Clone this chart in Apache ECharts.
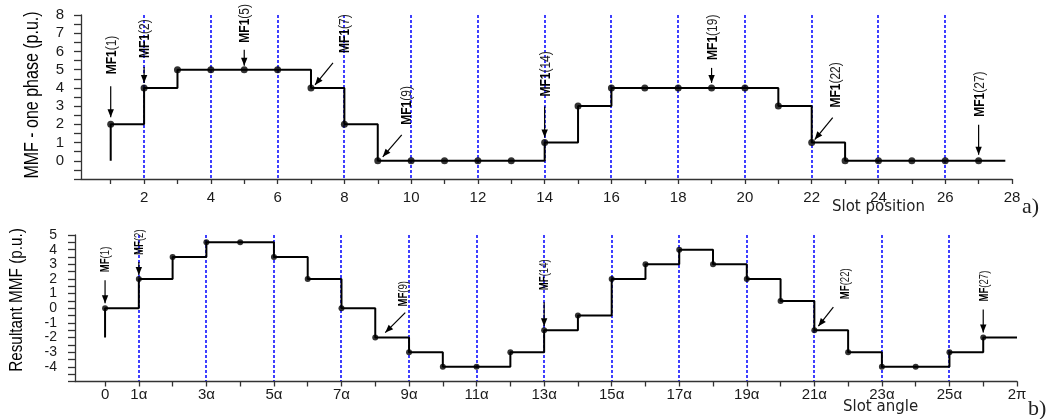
<!DOCTYPE html>
<html><head><meta charset="utf-8">
<script src="https://cdn.jsdelivr.net/npm/echarts@6/dist/echarts.min.js"></script>
<style>html,body{margin:0;padding:0;background:#fff}#c{width:1058px;height:419px}</style>
</head><body><div id="c"></div>
<script>
// ---------- Chart a) : MMF of one phase ----------
const slotsA = [1,2,3,4,5,6,7,8,9,10,11,12,13,14,15,16,17,18,19,20,21,22,23,24,25,26,27];
const mmfA   = [2,4,5,5,5,5,4,2,0,0,0,0,0,1,3,4,4,4,4,4,3,1,0,0,0,0,0];
const startValueA = 0;      // value before first slot (vertical rise at slot 1)
const lineEndA = 27.8;      // where the last level stops
const gridLinesA = [2,4,6,8,10,12,14,16,18,20,22,24,26];
const xTicksA = [1,2,3,4,5,6,7,8,9,10,11,12,13,14,15,16,17,18,19,20,21,22,23,24,25,26,27,28];
const xLabelsA = [2,4,6,8,10,12,14,16,18,20,22,24,26,28];
const yLabelsA = [0,1,2,3,4,5,6,7,8];
const annotatedA = [1,2,5,7,9,14,19,22,27];

// ---------- Chart b) : resultant MMF ----------
const posB = [0,1,2,3,4,5,6,7,8,9,10,11,12,13,14,15,16,17,18,19,20,21,22,23,24,25,26];
const mmfB = [0,2,3.5,4.5,4.5,3.5,2,0,-2,-3,-4,-4,-3,-1.5,-0.5,2,3,4,3,2,0.5,-1.5,-3,-4,-4,-3,-2];
const startValueB = -2;
const lineEndB = 27;
const gridLinesB = [1,3,5,7,9,11,13,15,17,19,21,23,25];
const xTicksB = [0,1,2,3,4,5,6,7,8,9,10,11,12,13,14,15,16,17,18,19,20,21,22,23,24,25,26,27];
const xLabelPosB = [0,1,3,5,7,9,11,13,15,17,19,21,23,25,27];
const xLabelTextB = ['0','1α','3α','5α','7α','9α','11α','13α','15α','17α','19α','21α','23α','25α','2π'];
const yLabelsB = [-4,-3,-2,-1,0,1,2,3,4,5];
const annotatedB = [1,2,9,14,22,27]; // MF numbers; position = number - 1

// annotation layout (pixel offsets relative to the annotated point)
const layoutA = {
  1:{gap:7,len:31,lg:12}, 2:{gap:5,len:16,lg:9}, 5:{gap:4,len:16,lg:7},
  7:{d:[22,-25,4,-3], l:[34,-35]}, 9:{d:[24,-26,5,-4], l:[29,-36]},
  14:{gap:5,len:31,lg:10}, 19:{gap:5,len:15,lg:8},
  22:{d:[21,-25,3,-3], l:[24,-35]}, 27:{gap:6,len:30,lg:8}
};
const layoutB = {
  1:{gap:5,len:23,lg:8}, 2:{gap:4,len:13,lg:7},
  9:{d:[30,-25,10,-5], l:[28,-31]}, 14:{gap:4,len:24,lg:12},
  22:{d:[19,-23,4,-4], l:[31,-31]}, 27:{gap:5,len:23,lg:8}
};

const FONT = 'Liberation Sans, Arial, sans-serif';
const lineA = [[slotsA[0], startValueA]].concat(slotsA.map((s,i)=>[s,mmfA[i]])).concat([[lineEndA, mmfA[mmfA.length-1]]]);
const lineB = [[posB[0], startValueB]].concat(posB.map((p,i)=>[p,mmfB[i]])).concat([[lineEndB, mmfB[mmfB.length-1]]]);

const axisCol = '#333';
const BLUE = '#1010ff';
function xAxisBase(grid, min, max, ticks, labels, margin, fmt){
  return {gridIndex:grid, type:'value', min:min, max:max,
    axisLine:{show:true,onZero:false,lineStyle:{color:axisCol,width:1.3}},
    axisTick:{show:true,customValues:ticks,length:5,lineStyle:{color:axisCol,width:1.3}},
    axisLabel:{customValues:labels,margin:margin,fontSize:15,color:'#1a1a1a',fontFamily:FONT,formatter:fmt,showMinLabel:true,showMaxLabel:true},
    splitLine:{show:false}};
}
function yAxisBase(grid, min, max, margin, labels, fs){
  return {gridIndex:grid, type:'value', min:min, max:max, interval:1,
    axisLine:{show:true,onZero:false,lineStyle:{color:axisCol,width:1.3}},
    axisTick:{show:true,length:7,lineStyle:{color:axisCol,width:1.3}},
    minorTick:{show:true,splitNumber:2,length:7,lineStyle:{color:axisCol,width:1.3}},
    axisLabel:{customValues:labels,margin:margin,fontSize:fs,lineHeight:fs,color:'#1a1a1a',fontFamily:FONT,
      showMinLabel:true,showMaxLabel:true,hideOverlap:false, formatter:v=>String(v)},
    splitLine:{show:false}, minorSplitLine:{show:false}};
}

const chart = echarts.init(document.getElementById('c'), null, {renderer:'canvas'});
chart.setOption({
  animation:false,
  backgroundColor:'#fff',
  grid:[{left:81,right:46,top:15,height:164},{left:75,right:41,top:235,height:146.5}],
  xAxis:[
    xAxisBase(0, 0.11, 28, xTicksA, xLabelsA, 11, v=>String(v)),
    xAxisBase(1, -0.89, 27, xTicksB, xLabelPosB, 6, v=>{const k=xLabelPosB.indexOf(Math.round(v)); return k>=0?xLabelTextB[k]:'';})
  ],
  yAxis:[ yAxisBase(0,-1,8,17,yLabelsA,15), yAxisBase(1,-5,5,18,yLabelsB,14) ],
  series:[
    {type:'line', xAxisIndex:0, yAxisIndex:0, step:'end', data:lineA, showSymbol:false, z:3,
      itemStyle:{color:'#000'}, lineStyle:{color:'#000',width:2}},
    {type:'scatter', xAxisIndex:0, yAxisIndex:0, data:slotsA.map((s,i)=>[s,mmfA[i]]), symbolSize:7, z:4, itemStyle:{color:'#000'}},
    {type:'line', xAxisIndex:1, yAxisIndex:1, step:'end', data:lineB, showSymbol:false, z:3,
      itemStyle:{color:'#000'}, lineStyle:{color:'#000',width:2}},
    {type:'scatter', xAxisIndex:1, yAxisIndex:1, data:posB.map((p,i)=>[p,mmfB[i]]), symbolSize:6, z:4, itemStyle:{color:'#000'}}
  ]
});

// ---------- blue dotted grid lines, annotations (arrows + rotated labels) ----------
const g = [];
function gridLines(grid, vals, yTop, yBot){
  vals.forEach(v=>{
    const top = chart.convertToPixel({gridIndex:grid}, [v, yTop]);
    const bot = chart.convertToPixel({gridIndex:grid}, [v, yBot]);
    const x = Math.round(top[0]);
    g.push({type:'line', silent:true, z:0, shape:{x1:x,y1:top[1],x2:x,y2:bot[1]},
      style:{stroke:BLUE, lineWidth:1.6, lineDash:[3,2]}});
  });
}
gridLines(0, gridLinesA, 8, -1);
gridLines(1, gridLinesB, 5, -5);

function arrow(x1,y1,x2,y2){
  g.push({type:'line', shape:{x1:x1,y1:y1,x2:x2,y2:y2}, style:{stroke:'#000',lineWidth:1.2}, z:10});
  const dx=x2-x1, dy=y2-y1, L=Math.hypot(dx,dy), ux=dx/L, uy=dy/L, px=-uy, py=ux;
  const hl=8, hw=3.2;
  g.push({type:'polygon', shape:{points:[[x2,y2],[x2-ux*hl+px*hw,y2-uy*hl+py*hw],[x2-ux*hl-px*hw,y2-uy*hl-py*hw]]},
    style:{fill:'#000'}, z:10});
}
function vtext(x,y,txt,size,scale,rich,align){
  g.push({type:'text', x:x, y:y, rotation:Math.PI/2, scaleX:scale, z:11,
    style:{text:txt, x:0, y:0, font: size+'px '+FONT, fill:'#000',
      align:align||'left', verticalAlign:'middle', textAlign:align||'left', textVerticalAlign:'middle', rich:rich}});
}
function annotate(grid, xv, yv, lay, bold, num, size, scale){
  const p = chart.convertToPixel({gridIndex:grid}, [xv, yv]);
  let lx, ly;
  if (lay.d){
    arrow(p[0]+lay.d[0], p[1]+lay.d[1], p[0]+lay.d[2], p[1]+lay.d[3]);
    lx = p[0]+lay.l[0]; ly = p[1]+lay.l[1];
  } else {
    const y2 = p[1]-lay.gap, y1 = y2-lay.len;
    arrow(p[0], y1, p[0], y2);
    lx = p[0]+1; ly = y1-lay.lg;
  }
  vtext(lx, ly, '{b|'+bold+'}{n|('+num+')}', size, scale,
    {b:{fontWeight:'bold',fontSize:size,fontFamily:FONT,fill:'#000'}, n:{fontSize:size,fontFamily:FONT,fill:'#222'}});
}
annotatedA.forEach(s=>{ const i=slotsA.indexOf(s); annotate(0, slotsA[i], mmfA[i], layoutA[s], 'MF1', s, 15, 0.8); });
annotatedB.forEach(n=>{ const i=n-1; annotate(1, posB[i], mmfB[i], layoutB[n], 'MF', n, 12, 0.8); });

// axis titles and captions
vtext(32, 95, 'MMF - one phase (p.u.)', 20, 0.8, null, 'center');
vtext(17, 300, 'Resultant MMF (p.u.)', 18, 0.85, null, 'center');
function txt(x,y,t,font){ g.push({type:'text', x:x, y:y, z:11, style:{text:t, font:font, fill:'#222', align:'left', verticalAlign:'middle', textAlign:'left', textVerticalAlign:'middle'}}); }
txt(832, 207, 'Slot position', '15px DejaVu Sans');
txt(843, 407, 'Slot angle', '15px DejaVu Sans');
txt(1022, 207, 'a)', '22px Liberation Serif');
txt(1028, 409, 'b)', '22px Liberation Serif');
chart.setOption({graphic:g});
</script>
</body></html>
